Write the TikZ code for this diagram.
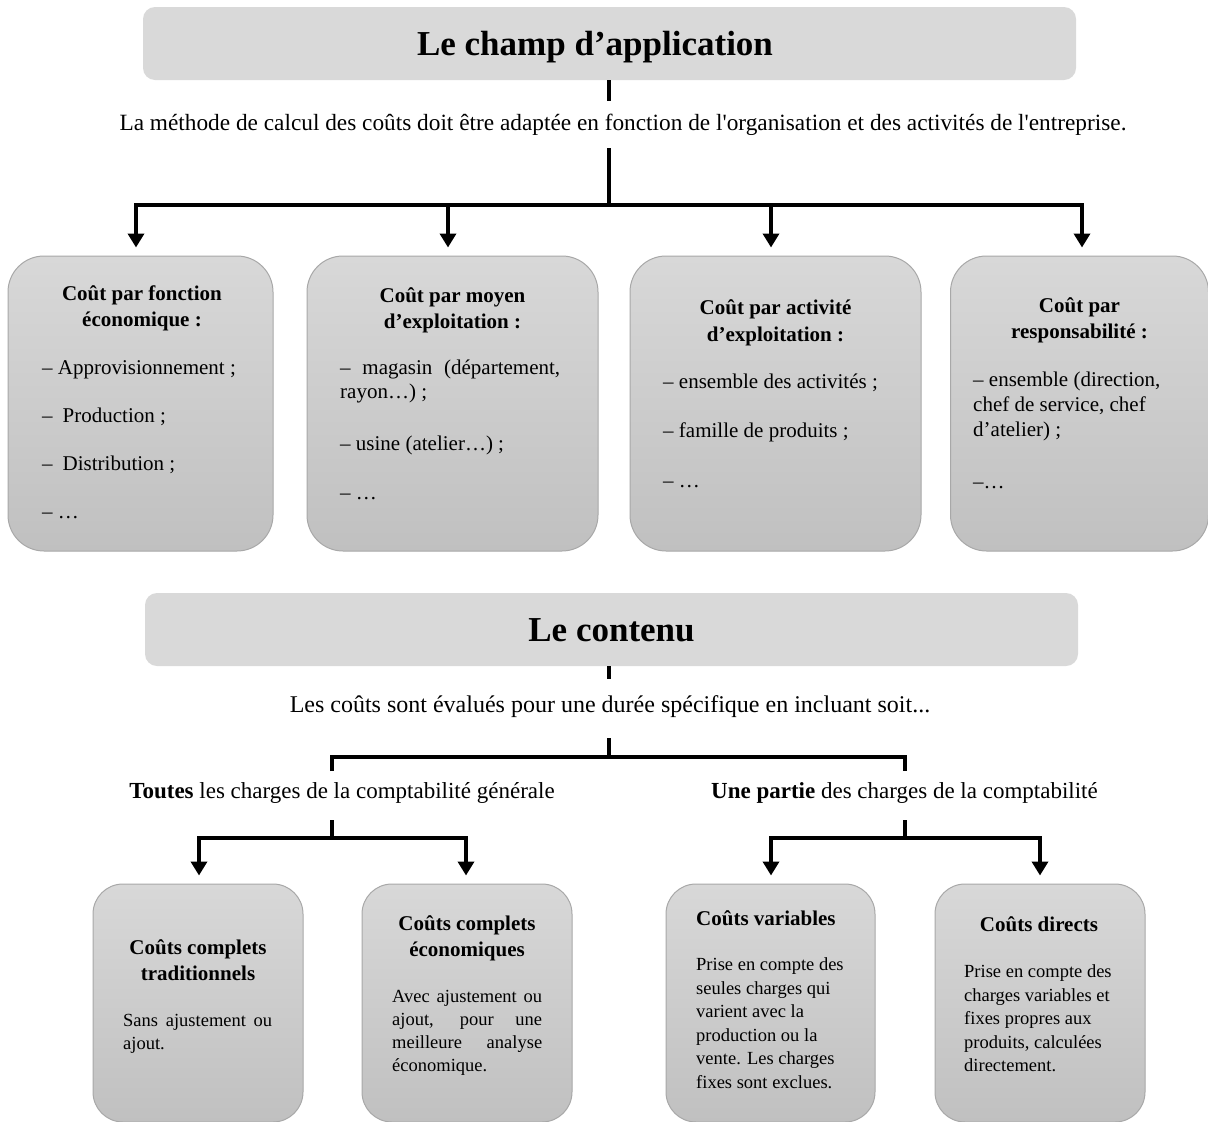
\documentclass[tikz,border=0pt]{standalone}
\usepackage{fontspec}
\setmainfont{Liberation Serif}[Ligatures=TeXOff]
\usetikzlibrary{arrows.meta}
\definecolor{bannerfill}{HTML}{D9D9D9}
\definecolor{cardtop}{HTML}{D8D8D8}
\definecolor{cardbot}{HTML}{C0C0C0}
\definecolor{cardline}{HTML}{A8A8A8}
\begin{document}
\begin{tikzpicture}[x=1pt,y=-1pt,
  banner/.style={fill=bannerfill, rounded corners=12pt, inner sep=0pt},
  bigtitle/.style={font=\bfseries\fontsize{35}{40}\selectfont, anchor=base, inner sep=0pt},
  card/.style={draw=cardline, line width=1pt, top color=cardtop, bottom color=cardbot, inner sep=0pt},
  bigcard/.style={card, rounded corners=36pt},
  smallcard/.style={card, rounded corners=30pt},
  hd/.style={font=\bfseries\fontsize{21}{25}\selectfont, anchor=base, inner sep=0pt},
  hdl/.style={hd, anchor=base west},
  txt/.style={font=\fontsize{21}{25}\selectfont, anchor=base west, inner sep=0pt},
  lead/.style={font=\fontsize{23}{27}\selectfont, anchor=base, inner sep=0pt},
  sm/.style={font=\fontsize{18.5}{23.5}\selectfont, anchor=base west, inner sep=0pt},
  wire/.style={line width=3.5pt},
  arr/.style={wire, -{Triangle[width=16pt,length=14pt]}, shorten >=8pt}
]
\useasboundingbox (0,0) rectangle (1208,1122);

% ---------- Le champ d'application ----------
\node[banner, minimum width=933pt, minimum height=73pt] (ban1) at (609.5,43.5) {};
\node[bigtitle] (ban1t) at (595,55) {Le champ d’application};
\node[lead, font=\fontsize{23.3}{27}\selectfont] (intro1) at (623,130) {La méthode de calcul des coûts doit être adaptée en fonction de l'organisation et des activités de l'entreprise.};

\coordinate (s1) at (609,101);
\coordinate (s2) at (609,148);
\coordinate (k1) at (136,205);
\coordinate (k2) at (448,205);
\coordinate (k3) at (771,205);
\coordinate (k4) at (1082,205);
\coordinate (j1) at (609,205);

\node[bigcard, minimum width=265pt, minimum height=295pt] (c1) at (140.5,403.5) {};
\node[bigcard, minimum width=291pt, minimum height=295pt] (c2) at (452.5,403.5) {};
\node[bigcard, minimum width=291pt, minimum height=295pt] (c3) at (775.5,403.5) {};
\node[bigcard, minimum width=258pt, minimum height=295pt] (c4) at (1079.5,403.5) {};

\draw[wire] (s1 |- ban1.south) -- (s1);
\draw[wire] (s2) -- (j1);
\draw[wire, line cap=rect] (k1) -- (k4);
\draw[arr] (k1) -- (k1 |- c1.north);
\draw[arr] (k2) -- (k2 |- c2.north);
\draw[arr] (k3) -- (k3 |- c3.north);
\draw[arr] (k4) -- (k4 |- c4.north);

% card 1
\node[hd] (c1h1) at (142,300) {Coût par fonction};
\node[hd] (c1h2) at (142,326) {économique :};
\node[txt] (c1a) at (42,374) {– Approvisionnement ;};
\node[txt] (c1b) at (42,422) {–\hspace{10pt}Production ;};
\node[txt] (c1c) at (42,470) {–\hspace{10pt}Distribution ;};
\node[txt] (c1d) at (42,518) {– …};

% card 2
\node[hd] (c2h1) at (452.5,302) {Coût par moyen};
\node[hd] (c2h2) at (452.5,328) {d’exploitation :};
\node[txt] (c2a) at (340,374) {\makebox[220pt][s]{– magasin (département,}};
\node[txt] (c2b) at (340,398) {rayon…) ;};
\node[txt] (c2c) at (340,450) {– usine (atelier…) ;};
\node[txt] (c2d) at (340,499) {– …};

% card 3
\node[hd] (c3h1) at (775.5,314) {Coût par activité};
\node[hd] (c3h2) at (775.5,341) {d’exploitation :};
\node[txt] (c3a) at (663,388) {– ensemble des activités ;};
\node[txt] (c3b) at (663,437) {– famille de produits ;};
\node[txt] (c3c) at (663,487) {– …};

% card 4
\node[hd] (c4h1) at (1079.5,312) {Coût par};
\node[hd] (c4h2) at (1079.5,338) {responsabilité :};
\node[txt] (c4a) at (973,386) {– ensemble (direction,};
\node[txt] (c4b) at (973,411) {chef de service, chef};
\node[txt] (c4c) at (973,436) {d’atelier) ;};
\node[txt] (c4d) at (973,488) {–…};

% ---------- Le contenu ----------
\node[banner, minimum width=933pt, minimum height=73pt] (ban2) at (611.5,629.5) {};
\node[bigtitle] (ban2t) at (611.5,641) {Le contenu};
\node[lead, font=\fontsize{24}{28}\selectfont] (intro2) at (610,712) {Les coûts sont évalués pour une durée spécifique en incluant soit...};

\coordinate (t1) at (609,679);
\coordinate (t2) at (609,738);
\coordinate (m0) at (609,757);
\coordinate (mL) at (332,757);
\coordinate (mR) at (905,757);
\coordinate (mLe) at (332,771);
\coordinate (mRe) at (905,771);

\node[lead] (all) at (342,798) {\textbf{Toutes} les charges de la comptabilité générale};
\node[lead] (part) at (904.5,798) {\textbf{Une partie} des charges de la comptabilité};

\coordinate (lL) at (332,820);
\coordinate (lj) at (332,838);
\coordinate (l1) at (199,838);
\coordinate (l2) at (466,838);
\coordinate (rL) at (905,820);
\coordinate (rj) at (905,838);
\coordinate (r1) at (771,838);
\coordinate (r2) at (1040,838);

\node[smallcard, minimum width=210pt, minimum height=238pt] (d1) at (198,1003) {};
\node[smallcard, minimum width=210pt, minimum height=238pt] (d2) at (467,1003) {};
\node[smallcard, minimum width=209pt, minimum height=238pt] (d3) at (770.5,1003) {};
\node[smallcard, minimum width=210pt, minimum height=238pt] (d4) at (1040,1003) {};

\draw[wire] (t1 |- ban2.south) -- (t1);
\draw[wire] (t2) -- (m0);
\draw[wire] (mLe) -- (mL) -- (mR) -- (mRe);
\draw[wire] (lL) -- (lj);
\draw[wire, line cap=rect] (l1) -- (l2);
\draw[arr] (l1) -- (l1 |- d1.north);
\draw[arr] (l2) -- (l2 |- d2.north);
\draw[wire] (rL) -- (rj);
\draw[wire, line cap=rect] (r1) -- (r2);
\draw[arr] (r1) -- (r1 |- d3.north);
\draw[arr] (r2) -- (r2 |- d4.north);

% card 5
\node[hd] (d1h1) at (198,954) {Coûts complets};
\node[hd] (d1h2) at (198,980) {traditionnels};
\node[sm] (d1a) at (123,1026) {\makebox[149pt][s]{Sans ajustement ou}};
\node[sm] (d1b) at (123,1049) {ajout.};

% card 6
\node[hd] (d2h1) at (467,930) {Coûts complets};
\node[hd] (d2h2) at (467,956) {économiques};
\node[sm] (d2a) at (392,1002) {\makebox[150pt][s]{Avec ajustement ou}};
\node[sm] (d2b) at (392,1025) {\makebox[150pt][s]{ajout, pour une}};
\node[sm] (d2c) at (392,1048) {\makebox[150pt][s]{meilleure analyse}};
\node[sm] (d2d) at (392,1071) {économique.};

% card 7
\node[hdl] (d3h) at (696,925) {Coûts variables};
\node[sm] (d3a) at (696,970) {Prise en compte des};
\node[sm] (d3b) at (696,994) {seules charges qui};
\node[sm] (d3c) at (696,1017) {varient avec la};
\node[sm] (d3d) at (696,1041) {production ou la};
\node[sm] (d3e) at (696,1064) {vente. Les charges};
\node[sm] (d3f) at (696,1088) {fixes sont exclues.};

% card 8
\node[hd] (d4h) at (1039,931) {Coûts directs};
\node[sm] (d4a) at (964,977) {Prise en compte des};
\node[sm] (d4b) at (964,1001) {charges variables et};
\node[sm] (d4c) at (964,1024) {fixes propres aux};
\node[sm] (d4d) at (964,1048) {produits, calculées};
\node[sm] (d4e) at (964,1071) {directement.};
\end{tikzpicture}
\end{document}
